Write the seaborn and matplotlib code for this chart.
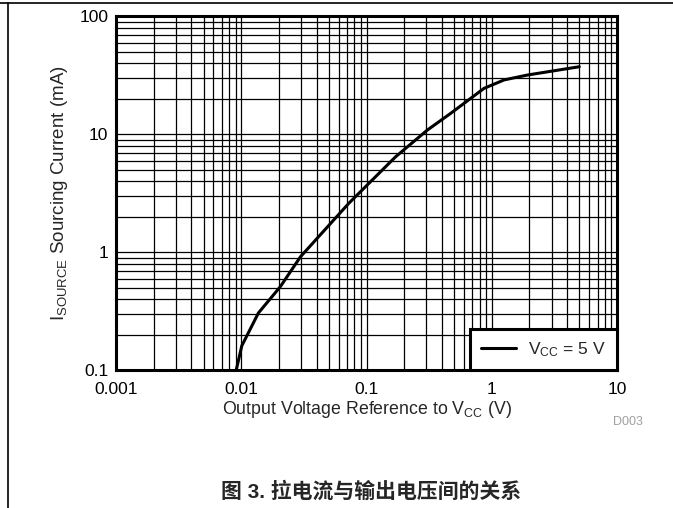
import matplotlib
matplotlib.use("Agg")
import matplotlib.pyplot as plt
import seaborn as sns
import pandas as pd
from matplotlib.lines import Line2D

# Output voltage referenced to VCC (V) vs. sourcing current (mA), VCC = 5 V
v_out = [0.0091, 0.0101, 0.0137, 0.0205, 0.0297, 0.0722, 0.171, 0.306,
         0.47, 0.868, 1.256, 1.93, 5.0]
i_source = [0.1, 0.162, 0.307, 0.513, 0.92, 2.61, 6.48, 10.9,
            15.1, 24.6, 29.0, 31.9, 37.5]

x_ticks = [0.001, 0.01, 0.1, 1, 10]
x_tick_labels = ["0.001", "0.01", "0.1", "1", "10"]
y_ticks = [0.1, 1, 10, 100]
y_tick_labels = ["0.1", "1", "10", "100"]

series_label = r"V$_{\rm CC}$ = 5 V"
x_label = r"Output Voltage Reference to V$_{\rm CC}$ (V)"
y_label = r"I$_{\rm SOURCE}$ Sourcing Current (mA)"
caption = "图 3. 拉电流与输出电压间的关系"
code = "D003"

sns.set_style("white")
plt.rcParams["font.family"] = ["Liberation Sans", "Noto Sans CJK SC", "DejaVu Sans"]
plt.rcParams["mathtext.fontset"] = "custom"
plt.rcParams["mathtext.rm"] = "Liberation Sans"
plt.rcParams["mathtext.it"] = "Liberation Sans"

FS = 12.5

df = pd.DataFrame({"v": v_out, "i": i_source})

fig = plt.figure(figsize=(6.73, 5.08), dpi=100)
ax = fig.add_axes([0.1724, 0.2707, 0.7444, 0.6969])

sns.lineplot(data=df, x="v", y="i", ax=ax, color="black", linewidth=2.2,
             legend=False)
ax.set_xscale("log")
ax.set_yscale("log")
ax.set_xlim(0.001, 10)
ax.set_ylim(0.1, 100)

ax.set_xticks(x_ticks)
ax.set_xticklabels(x_tick_labels)
ax.set_yticks(y_ticks)
ax.set_yticklabels(y_tick_labels)
ax.tick_params(which="both", length=0, labelsize=FS, colors="black")
ax.tick_params(axis="x", pad=8)
ax.tick_params(axis="y", pad=5.5)

ax.grid(True, which="major", color="black", linewidth=0.9)
ax.grid(True, which="minor", color="black", linewidth=0.9)
ax.set_axisbelow(True)

for s in ax.spines.values():
    s.set_visible(True)
    s.set_color("black")
    s.set_linewidth(2.2)

ax.set_xlabel(x_label, fontsize=12.75, labelpad=1.5)
ax.set_ylabel(y_label, fontsize=13.5, labelpad=7)

handle = Line2D([], [], color="black", linewidth=2.2)
leg = ax.legend([handle], [series_label], loc="lower right",
                bbox_to_anchor=(1.0, 0.0), borderaxespad=0, fontsize=FS,
                frameon=True, fancybox=False, handlelength=2.0,
                borderpad=0.65, handletextpad=0.7)
leg.get_frame().set_edgecolor("black")
leg.get_frame().set_linewidth(2.2)
leg.get_frame().set_facecolor("white")
leg.get_frame().set_alpha(1)

fig.text(628 / 673, 1 - 422 / 508, code, color="#a0a0a0", fontsize=9,
         ha="center", va="center")
fig.text(371 / 673, 1 - 491 / 508, caption, fontsize=15, fontweight="bold",
         ha="center", va="center")

# page frame: top rule and left rule
fig.add_artist(Line2D([0, 1], [1 - 3 / 508, 1 - 3 / 508], transform=fig.transFigure,
                      color="black", linewidth=1.2))
fig.add_artist(Line2D([8 / 673, 8 / 673], [0, 1 - 3 / 508], transform=fig.transFigure,
                      color="black", linewidth=1.2))

fig.savefig("out.png", dpi=100)
